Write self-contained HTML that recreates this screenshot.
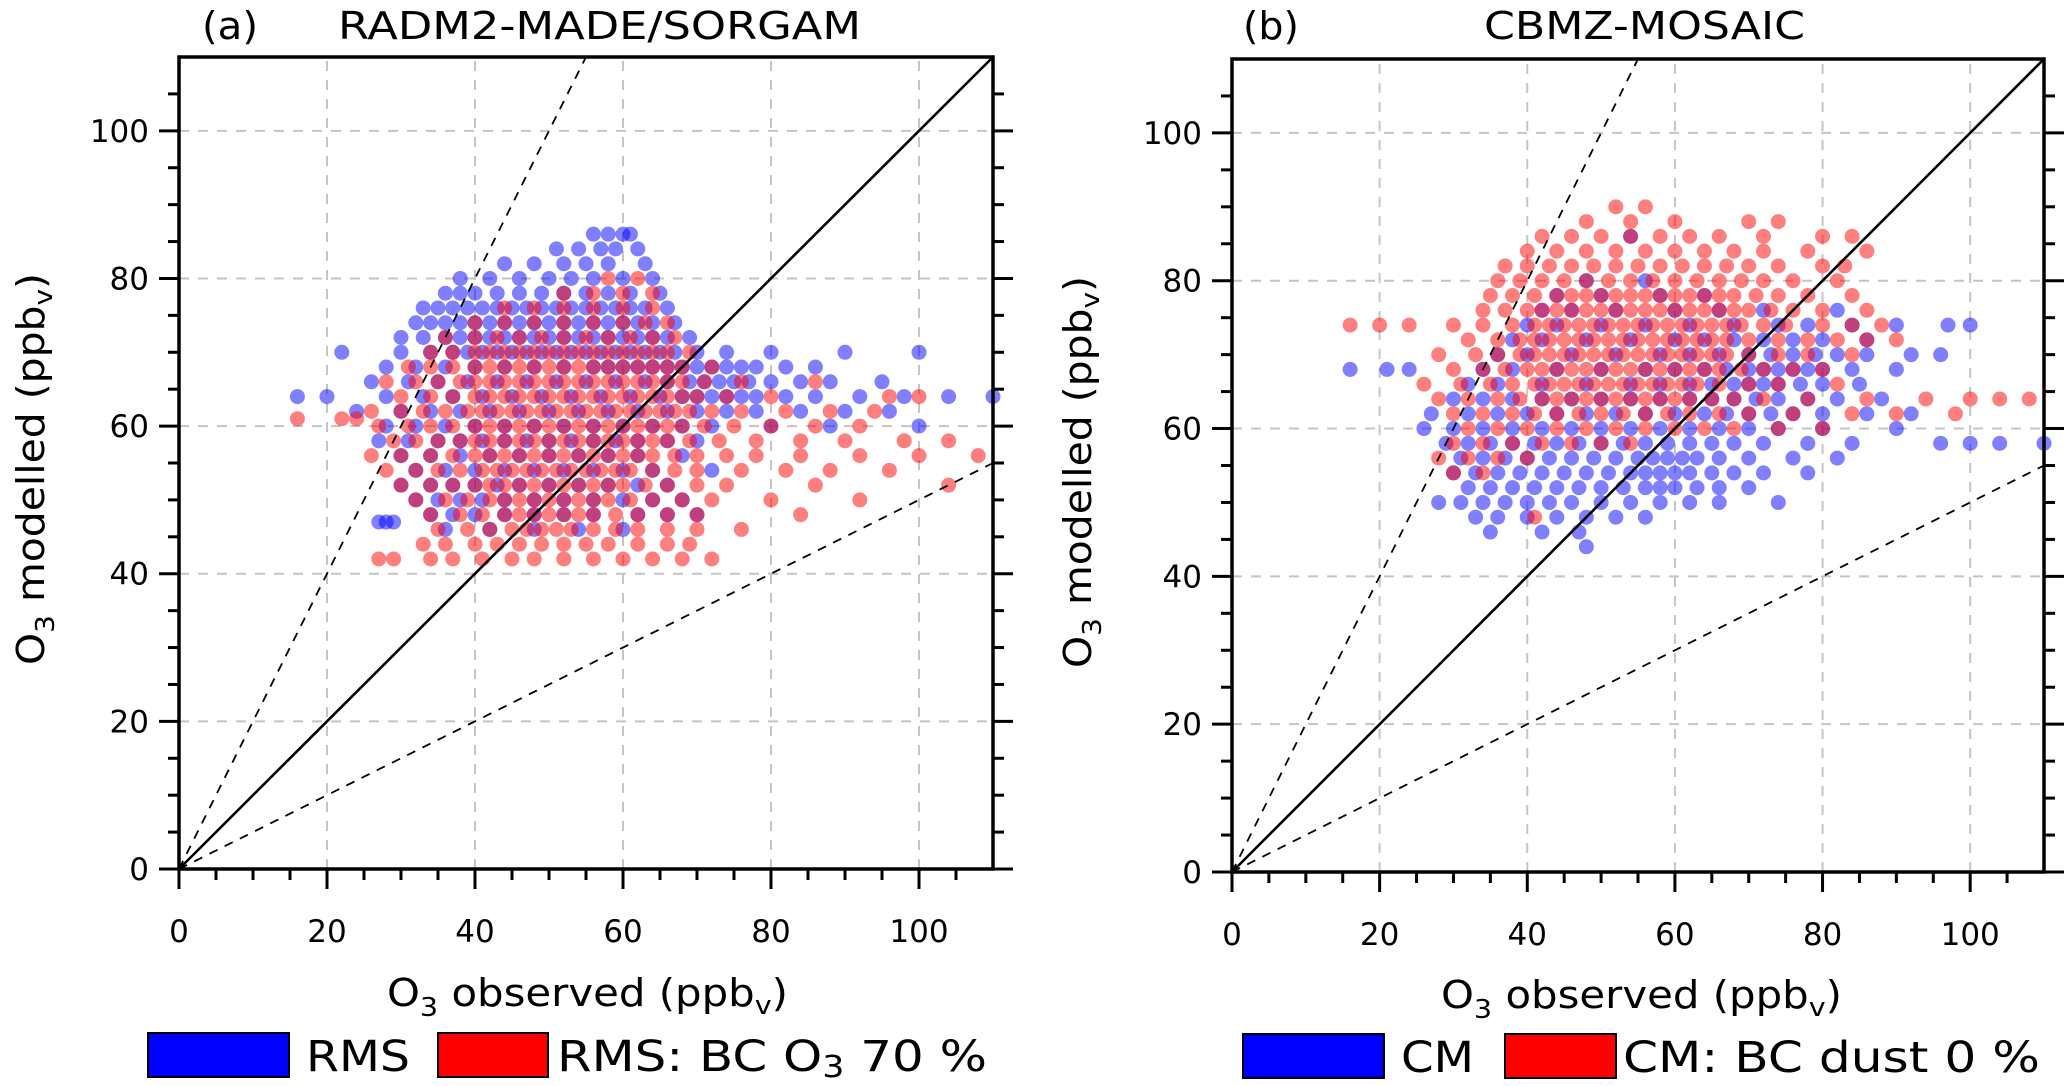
<!DOCTYPE html>
<html><head><meta charset="utf-8"><style>
html,body{margin:0;padding:0;background:#fff;}
svg{display:block;font-family:"DejaVu Sans","Liberation Sans",sans-serif;}
</style></head><body>
<svg id="fig" width="2067" height="1086" viewBox="0 0 2067 1086" xmlns="http://www.w3.org/2000/svg">
<g id="grids"></g><g id="pts"></g><g id="refs"></g><g id="axes"></g>
<g fill="#000">
 <text x="202" y="39" font-size="38" textLength="56" lengthAdjust="spacingAndGlyphs">(a)</text>
 <text x="338" y="39" font-size="38" textLength="523" lengthAdjust="spacingAndGlyphs">RADM2-MADE/SORGAM</text>
 <text x="387" y="1006" font-size="38" textLength="401" lengthAdjust="spacingAndGlyphs">O<tspan font-size="26" dy="10">3</tspan><tspan dy="-10">  observed (ppb</tspan><tspan font-size="26" dy="8">v</tspan><tspan dy="-8">)</tspan></text>
 <text transform="translate(44,665) rotate(-90)" font-size="38" textLength="392" lengthAdjust="spacingAndGlyphs">O<tspan font-size="26" dy="10">3</tspan><tspan dy="-10"> modelled (ppb</tspan><tspan font-size="26" dy="8">v</tspan><tspan dy="-8">)</tspan></text>
 <rect x="148" y="1033" width="141" height="44" fill="#0000ff" stroke="#000" stroke-width="2"/>
 <text x="306" y="1071" font-size="43" textLength="104" lengthAdjust="spacingAndGlyphs">RMS</text>
 <rect x="438" y="1033" width="110" height="44" fill="#ff0000" stroke="#000" stroke-width="2"/>
 <text x="557" y="1071" font-size="43" textLength="430" lengthAdjust="spacingAndGlyphs">RMS: BC O<tspan font-size="30" dy="6">3</tspan><tspan dy="-6"> 70 %</tspan></text>
</g>
<g fill="#000">
 <text x="1243" y="39" font-size="38" textLength="56" lengthAdjust="spacingAndGlyphs">(b)</text>
 <text x="1484" y="39" font-size="38" textLength="321" lengthAdjust="spacingAndGlyphs">CBMZ-MOSAIC</text>
 <text x="1441" y="1008" font-size="38" textLength="401" lengthAdjust="spacingAndGlyphs">O<tspan font-size="26" dy="10">3</tspan><tspan dy="-10">  observed (ppb</tspan><tspan font-size="26" dy="8">v</tspan><tspan dy="-8">)</tspan></text>
 <text transform="translate(1091,668) rotate(-90)" font-size="38" textLength="392" lengthAdjust="spacingAndGlyphs">O<tspan font-size="26" dy="10">3</tspan><tspan dy="-10"> modelled (ppb</tspan><tspan font-size="26" dy="8">v</tspan><tspan dy="-8">)</tspan></text>
 <rect x="1243" y="1034" width="141" height="44" fill="#0000ff" stroke="#000" stroke-width="2"/>
 <text x="1401" y="1072" font-size="43" textLength="73" lengthAdjust="spacingAndGlyphs">CM</text>
 <rect x="1505" y="1034" width="111" height="44" fill="#ff0000" stroke="#000" stroke-width="2"/>
 <text x="1623" y="1072" font-size="43" textLength="417" lengthAdjust="spacingAndGlyphs">CM: BC  dust 0 %</text>
</g>
</svg>
<script>
// tick values
const majorTicks = [0,20,40,60,80,100];
const minorTicks = [5,10,15,25,30,35,45,50,55,65,70,75,85,90,95,105];
const gridVals = [20,40,60,80,100];
const refSlopes = [1,2,0.5];
// RMS (blue, panel a): row y value + observed x values
const rmsY = [86,84,82,80,78,76,74,72,70,68,66,64,62,60,58,56,54,52,50,48,47,46];
const rmsX = [[56,58,60,61],[51,54,57,59,62],[44,48,52,55,58,63],[38,42,46,50,53,56,60,64],
[36,38,40,43,46,49,52,55,58,61,65],[33,35,37,39,41,43,45,47,49,51,53,55,57,59,61,63,66],
[32,34,36,38,40,42,44,46,48,50,52,54,56,58,60,62,64,67],[30,33,36,38,40,42,44,46,48,50,52,54,56,58,60,62,64,66,69],
[22,30,34,37,39,41,43,45,47,49,51,53,55,57,59,61,63,65,67,70,74,80,90,100],
[28,32,36,40,44,48,52,56,58,60,62,64,66,68,70,72,74,76,78,82,86],
[26,31,35,39,43,47,51,55,59,63,66,69,71,73,75,77,80,84,88,95],
[16,20,28,33,37,41,45,49,53,57,61,65,68,70,72,74,76,78,82,86,92,98,104,110],
[24,30,34,38,42,46,50,54,58,62,66,70,74,78,84,90,96],[28,32,36,40,44,48,52,56,60,64,68,72,80,88,100],
[27,31,35,38,41,44,47,50,53,56,59,62,66,70],[30,34,38,42,46,50,54,58,62,68],[32,36,40,44,48,52,56,60,64,72],
[30,34,37,40,43,46,50,54,58,62,66],[32,35,38,41,44,48,52,56,60,64,68],[34,37,40,44,48,52,56,62,66,70],[27,28,29],[36,42,48,54,60]];
// RMS: BC O3 70 % (red, panel a)
const rmsBcY = [80,78,76,74,72,70,68,66,64,62,61,60,58,56,54,52,50,48,46,44,42];
const rmsBcX = [[58,62],[52,56,60,64],[44,48,52,56,60,64],[40,44,48,52,56,60,63,66],[36,40,43,46,49,52,55,58,61,64,67],
[34,37,40,42,44,46,48,50,52,54,56,58,60,62,64,66,69],[31,34,37,40,42,44,46,48,50,52,54,56,58,60,62,64,66,68,72],
[28,32,35,38,40,42,44,46,48,50,52,54,56,58,60,62,64,66,68,71,76,86],
[30,34,37,40,42,44,46,48,50,52,54,56,58,60,62,64,66,68,70,74,80,96,100],
[26,30,33,36,39,41,43,45,47,49,51,53,55,57,59,61,63,65,67,69,72,76,82,88,94],[16,22,24],
[27,31,34,37,40,42,44,46,48,50,52,54,56,58,60,62,64,66,68,71,75,80,86,92],
[29,32,35,38,40,42,44,46,48,50,52,54,56,58,60,62,64,66,69,73,78,84,90,98,104],
[26,30,34,37,40,42,44,46,48,50,52,54,56,58,60,62,64,67,70,74,78,84,92,100,108],
[28,32,35,38,41,43,45,47,49,51,53,55,57,59,61,64,67,70,76,82,88,96],
[30,34,37,40,42,44,46,48,50,52,54,56,58,60,63,66,70,74,86,104],
[32,36,39,42,44,46,48,50,52,54,56,58,61,64,68,72,80,92],[34,38,41,44,46,48,50,52,54,56,59,62,66,70,84],
[35,39,42,45,47,49,51,53,56,59,62,66,70,76],[33,36,40,43,46,49,52,55,58,62,66,69],[27,29,34,37,41,45,48,52,56,60,64,68,72]];
// CM (blue, panel b)
const cmY = [86,80,78,76,74,72,70,68,66,64,62,60,58,56,54,52,50,48,46,44];
const cmX = [[54],[48,56],[44,50,58,64],[42,46,52,60,66,72,82],[40,44,50,56,62,68,74,78,84,90,97,100],
[38,42,48,54,60,64,68,72,76,80,86],[36,40,46,52,58,62,66,70,73,76,79,82,86,92,96],
[16,21,24,34,38,44,50,56,60,64,67,70,72,74,76,78,80,84,90],[32,36,42,48,54,58,62,65,68,70,72,74,77,80,85],
[30,34,38,42,46,50,54,58,62,65,68,71,74,78,82,88],[27,32,36,40,44,48,52,56,60,64,67,70,73,76,80,86,92],
[26,30,34,38,42,46,50,54,58,62,66,70,74,80,90],[29,32,35,38,41,44,47,50,53,56,59,62,65,68,72,78,84,96,100,104,110],
[31,34,37,40,43,46,49,52,55,57,59,61,63,66,70,76,82],[30,33,36,39,42,45,48,51,54,56,58,60,62,65,68,72,78],
[32,35,38,41,44,47,50,53,56,58,60,63,66,70],[28,31,34,37,40,43,46,50,54,58,62,66,74],[33,36,40,44,48,52,56],[35,42,47],[48]];
// CM: BC dust 0 % (red, panel b)
const cmBcY = [90,88,86,84,82,80,78,76,74,72,70,68,66,64,62,60,58,56,54,48];
const cmBcX = [[52,56],[48,54,60,70,74],[42,46,50,54,58,62,66,72,80,84],[40,44,48,52,56,60,64,68,72,78,86],
[37,40,43,46,49,52,55,58,61,64,67,70,74,80,83],[36,39,42,45,48,51,54,57,60,63,66,69,72,76,82],
[35,38,41,44,46,48,50,52,54,56,58,60,62,64,66,68,71,74,78,84],
[34,37,40,42,44,46,48,50,52,54,56,58,60,62,64,66,68,70,73,76,80,86],
[16,20,24,30,34,38,41,43,45,47,49,51,53,55,57,59,61,63,65,67,69,72,75,80,84,88],
[32,36,39,41,43,45,47,49,51,53,55,57,59,61,63,65,67,70,74,78,82,86,90],
[28,33,36,39,41,43,45,47,49,51,53,55,57,59,61,63,65,67,70,74,78,84],
[30,34,37,40,42,44,46,48,50,52,54,56,58,60,62,64,66,69,72,76,80],
[26,31,35,38,41,43,45,47,49,51,53,55,57,59,61,63,66,70,74,82],
[28,32,36,39,42,44,46,48,50,52,54,56,58,60,62,65,68,72,78,86,94,100,104,108],
[30,34,38,41,44,47,50,53,56,59,62,66,70,76,84,90,98],[32,36,40,44,48,52,56,60,64,68,74,80],
[30,34,38,42,46,50,54],[28,32,36,40],[30,34],[41]];

const NS='http://www.w3.org/2000/svg';
const panels=[
 {id:'a',x0:179,x1:993,y0:869,y1:57,series:[[rmsY,rmsX,'#0000ff','rms-point'],[rmsBcY,rmsBcX,'#ff0000','rms-bc-point']]},
 {id:'b',x0:1232,x1:2044,y0:872,y1:59,series:[[cmY,cmX,'#0000ff','cm-point'],[cmBcY,cmBcX,'#ff0000','cm-bc-point']]}
];
function mk(tag,attrs,parent){const e=document.createElementNS(NS,tag);for(const k in attrs)e.setAttribute(k,attrs[k]);parent.appendChild(e);return e;}
const G=document.getElementById('grids'),P=document.getElementById('pts'),R=document.getElementById('refs'),A=document.getElementById('axes');
panels.forEach(p=>{
 const sx=v=>p.x0+(p.x1-p.x0)*v/110, sy=v=>p.y0+(p.y1-p.y0)*v/110;
 gridVals.forEach(v=>{
  const l1=mk('line',{x1:sx(v),x2:sx(v),y1:p.y0,y2:p.y1,stroke:'#c4c4c4','stroke-width':2,'stroke-dasharray':'10 9'},G);
  
  
  const l2=mk('line',{x1:p.x0,x2:p.x1,y1:sy(v),y2:sy(v),stroke:'#c4c4c4','stroke-width':2,'stroke-dasharray':'10 9'},G);
  
  
 });
 p.series.forEach(s=>{
  const ys=s[0],xs=s[1];
  ys.forEach((y,i)=>{xs[i].forEach(x=>{
   const c=mk('circle',{cx:sx(x),cy:sy(y),r:7.5,fill:s[2],'fill-opacity':0.5},P);
   
   
  });});
 });
 refSlopes.forEach(k=>{
  const xe=Math.min(110,110/k), ye=xe*k;
  const l=mk('line',{x1:sx(0),y1:sy(0),x2:sx(xe),y2:sy(ye),stroke:'#000','stroke-width':k===1?2.6:1.8},R);
  if(k!==1)l.setAttribute('stroke-dasharray','9 8');
  
  
 });
 const fr=mk('rect',{x:p.x0,y:p.y1,width:p.x1-p.x0,height:p.y0-p.y1,fill:'none',stroke:'#000','stroke-width':3.5},A);
 
 
 const tick=(v,len)=>{
  mk('line',{x1:p.x0,x2:p.x0-len,y1:sy(v),y2:sy(v),stroke:'#000','stroke-width':3},A);
  mk('line',{x1:p.x1,x2:p.x1+len,y1:sy(v),y2:sy(v),stroke:'#000','stroke-width':3},A);
  mk('line',{x1:sx(v),x2:sx(v),y1:p.y0,y2:p.y0+len,stroke:'#000','stroke-width':3},A);
 };
 majorTicks.forEach(v=>tick(v,20));
 minorTicks.forEach(v=>tick(v,11));
 majorTicks.forEach(v=>{
  const t=mk('text',{x:p.x0-30,y:sy(v)+11,'font-size':31,'text-anchor':'end'},A);t.textContent=v;
  
  
  const u=mk('text',{x:sx(v),y:p.y0+73,'font-size':31,'text-anchor':'middle'},A);u.textContent=v;
  
  
 });
});
</script>
</body></html>
